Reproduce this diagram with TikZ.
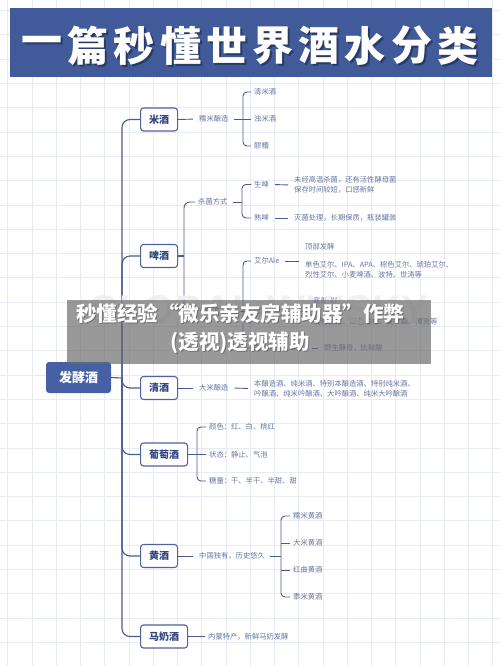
\documentclass[tikz,border=0pt]{standalone}
\usepackage{fontspec}
\newfontfamily\cjk{Noto Sans CJK SC}
\newfontfamily\wmfont{Liberation Sans}
\definecolor{titlebg}{HTML}{405A9A}
\definecolor{rootbg}{HTML}{4760A4}
\definecolor{linec}{HTML}{4B5B8D}
\definecolor{boxc}{HTML}{52629A}
\definecolor{boxt}{HTML}{34467E}
\definecolor{lblc}{HTML}{6877A0}
\definecolor{gridc}{HTML}{E7EBF4}
\begin{document}
\begin{tikzpicture}[x=1pt,y=-1pt,
  cat/.style={draw=boxc, line width=1.1pt, rounded corners=3pt, fill=white, text=boxt, font=\cjk\bfseries\fontsize{10}{12}\selectfont, minimum height=23pt, inner xsep=8.5pt, anchor=west},
  rootbox/.style={fill=rootbg, rounded corners=3pt, text=white, font=\cjk\bfseries\fontsize{13}{15}\selectfont, minimum width=65pt, minimum height=31pt},
  lbl/.style={text=lblc, font=\cjk\fontsize{7.3}{10}\selectfont, inner xsep=3pt, inner ysep=1pt, anchor=west, align=left},
  conn/.style={draw=linec, line width=1.1pt},
  sub/.style={draw=linec, line width=0.9pt},
  tchar/.style={font=\cjk\bfseries\fontsize{41}{46}\selectfont, inner sep=0},
]
\useasboundingbox (0,0) rectangle (500,666);
\fill[white] (0,0) rectangle (500,666);
% grid
\foreach \i in {0,...,20} {\draw[gridc, line width=0.5pt] (7.5+24.25*\i,0) -- (7.5+24.25*\i,666);}
\foreach \i in {0,...,27} {\draw[gridc, line width=0.5pt] (0,10.4+24.3*\i) -- (500,10.4+24.3*\i);}

% title
\fill[titlebg] (10,8) rectangle (492,77);
\foreach \c [count=\k from 0] in {一,篇,秒,懂,世,界,酒,水,分,类} {
  \node[tchar, name=ts\k, text=black, opacity=0.35] at (44+46.2*\k,47.5) {\c};
  \node[tchar, name=tt\k, text=white] at (42+46.2*\k,45.5) {\c};
}

% root and categories
\node[rootbox, name=root] at (78.5,377.5) {发酵酒};
\coordinate (trunk) at (122,378);
\node[cat, name=mi] at (140,119.5) {米酒};
\node[cat, name=pj] at (140,256) {啤酒};
\node[cat, name=qj] at (140,388) {清酒};
\node[cat, name=pt] at (140,454.5) {葡萄酒};
\node[cat, name=hj] at (140,556) {黄酒};
\node[cat, name=mn] at (140,636.5) {马奶酒};

\draw[conn] (root.east) -- (trunk);
\draw[conn, rounded corners=8pt] (mi.west) -| (trunk) |- (mn.west);
\draw[conn, rounded corners=8pt] (trunk) |- (pj.west);
\draw[conn, rounded corners=8pt] (trunk) |- (qj.west);
\draw[conn, rounded corners=8pt] (trunk) |- (pt.west);
\draw[conn, rounded corners=8pt] (trunk) |- (hj.west);

% 米酒
\node[lbl, name=m0] at (196,119) {糯米酿造};
\node[lbl, name=m1] at (251,92) {清米酒};
\node[lbl, name=m2] at (251,119) {浊米酒};
\node[lbl, name=m3] at (251,146) {醪糟};
\draw[sub, shorten >=3pt] (mi.east) -- (m0.west);
\draw[sub, shorten <=2pt] (m0.east) -- (m2.west);
\draw[sub, rounded corners=4pt] (m1.west) -- ++(-8,0) |- (m3.west);

% 啤酒
\coordinate (bv) at (184,256);
\node[lbl, name=k1] at (195,202) {杀菌方式};
\node[lbl, name=k2] at (195,311) {发酵方式};
\draw[conn] (pj.east) -- (bv);
\draw[sub, rounded corners=6pt] (k1.west) -| (bv) |- (k2.west);
% sterilization
\coordinate (kb1) at (242,202);
\node[lbl, name=sp] at (251,184.5) {生啤};
\node[lbl, name=rp] at (251,218) {熟啤};
\draw[sub, shorten <=2pt] (k1.east) -- (kb1);
\draw[sub, rounded corners=4pt] (sp.west) -- ++(-9,0) |- (rp.west);
\node[lbl, name=spd] at (291,185) {未经高温杀菌，还有活性酵母菌\\保存时间较短，口感新鲜};
\node[lbl, name=rpd] at (291,218) {灭菌处理，长期保质，瓶装罐装};
\draw[sub, shorten <=3pt, shorten >=3pt] (sp.east) -- (spd.west);
\draw[sub, shorten <=3pt, shorten >=3pt] (rp.east) -- (rpd.west);
% fermentation
\node[lbl, name=ale] at (251,261) {艾尔Ale};
\node[lbl, name=lag] at (251,311) {拉格Lager};
\node[lbl, name=lam] at (251,348) {兰比克Lambic};
\draw[sub, shorten <=2pt] (k2.east) -- (lag.west);
\draw[sub, rounded corners=4pt] (ale.west) -- ++(-8,0) |- (lam.west);
\node[lbl, name=aled] at (302,261) {顶部发酵\\[8pt]单色艾尔、IPA、APA、棕色艾尔、琥珀艾尔、\\烈性艾尔、小麦啤酒、波特、世涛等};
\node[lbl, name=lagd] at (310,311.5) {底部发酵\\[11pt]淡色拉格、深色拉格、皮尔森、博克等};
\node[lbl, name=lamd] at (321,348) {野生酵母，比较酸};
\draw[sub, shorten <=2pt, shorten >=3pt] (ale.east) -- (aled.west);
\draw[sub, shorten <=4pt, shorten >=3pt] (lag.east) -- (lagd.west);
\draw[sub, shorten <=8pt, shorten >=3pt] (lam.east) -- (lamd.west);

% 清酒
\node[lbl, name=q0] at (196,388) {大米酿造};
\node[lbl, name=q1] at (251,388.5) {本酿造酒、纯米酒、特别本酿造酒、特别纯米酒、\\吟酿酒、纯米吟酿酒、大吟酿酒、纯米大吟酿酒};
\draw[sub, shorten >=3pt] (qj.east) -- (q0.west);
\draw[sub, shorten <=3pt, shorten >=3pt] (q0.east) -- (q1.west);

% 葡萄酒
\node[lbl, name=g1] at (206,427) {颜色：红、白、桃红};
\node[lbl, name=g2] at (206,454.5) {状态：静止、气泡};
\node[lbl, name=g3] at (206,481) {糖量：干、半干、半甜、甜};
\draw[sub] (pt.east) -- (g2.west);
\draw[sub, rounded corners=4pt] (g1.west) -- ++(-9,0) |- (g3.west);

% 黄酒
\coordinate (hb) at (281,556);
\node[lbl, name=h0] at (196,556) {中国独有，历史悠久};
\node[lbl, name=h1] at (290,516) {糯米黄酒};
\node[lbl, name=h2] at (290,543) {大米黄酒};
\node[lbl, name=h3] at (290,570) {红曲黄酒};
\node[lbl, name=h4] at (290,597) {黍米黄酒};
\draw[sub, shorten >=3pt] (hj.east) -- (h0.west);
\draw[sub, shorten <=2pt] (h0.east) -- (hb);
\draw[sub, rounded corners=4pt] (h1.west) -- ++(-9,0) |- (h4.west);
\draw[sub] (h2.west) -- ++(-9,0);
\draw[sub] (h3.west) -- ++(-9,0);

% 马奶酒
\node[lbl, name=mn0] at (205,636.5) {内蒙特产，新鲜马奶发酵};
\draw[sub] (mn.east) -- (mn0.west);

% watermark and overlay banner
\node[name=wm, text=black!6, font=\wmfont\bfseries\fontsize{40}{40}\selectfont] at (258,310) {GLOBAL WHISKY};
\fill[fill={rgb,255:red,105;green,105;blue,105}, fill opacity=0.68] (67,300) rectangle (431,364);
\node[name=banshadow, text=black, opacity=0.25, font=\cjk\bfseries\fontsize{20.5}{28}\selectfont, align=center] at (241,330) {秒懂经验“微乐亲友房辅助器”作弊\\(透视)透视辅助};
\node[name=bantext, text=white, font=\cjk\bfseries\fontsize{20.5}{28}\selectfont, align=center] at (240,329) {秒懂经验“微乐亲友房辅助器”作弊\\(透视)透视辅助};
\end{tikzpicture}
\end{document}
